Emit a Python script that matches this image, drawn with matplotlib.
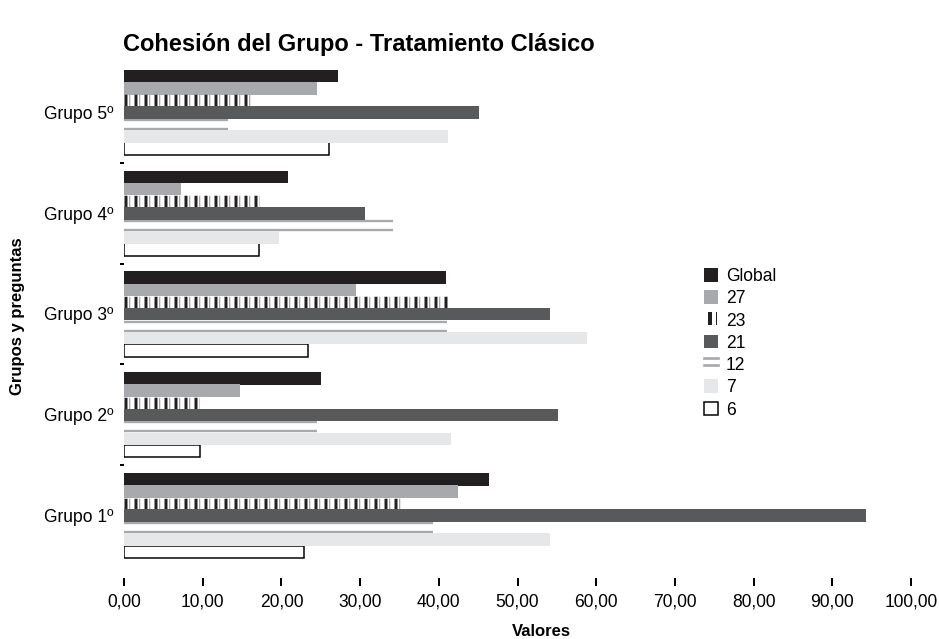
import matplotlib
matplotlib.use("Agg")
import matplotlib.pyplot as plt
from matplotlib.patches import Patch, Rectangle
from matplotlib.lines import Line2D
from matplotlib.legend_handler import HandlerBase
import numpy as np

plt.rcParams['font.family'] = ['Liberation Sans', 'DejaVu Sans']
plt.rcParams['lines.scale_dashes'] = False

groups = ["Grupo 1º", "Grupo 2º", "Grupo 3º", "Grupo 4º", "Grupo 5º"]
series_names = ["Global", "27", "23", "21", "12", "7", "6"]
v_global = [46.4, 25.0, 40.9, 20.8, 27.2]
v_27 = [42.4, 14.7, 29.5, 7.3, 24.5]
v_23 = [35.6, 9.5, 41.0, 17.2, 16.0]
v_21 = [94.3, 55.1, 54.1, 30.6, 45.1]
v_12 = [39.2, 24.5, 41.1, 34.2, 13.2]
v_7 = [54.1, 41.6, 58.8, 19.7, 41.2]
v_6 = [22.9, 9.7, 23.4, 17.1, 26.0]
x_ticks = [0, 10, 20, 30, 40, 50, 60, 70, 80, 90, 100]
x_tick_labels = ["0,00", "10,00", "20,00", "30,00", "40,00", "50,00",
                 "60,00", "70,00", "80,00", "90,00", "100,00"]

DPI = 120
PX = 72 / DPI  # points per pixel
fig = plt.figure(figsize=(939 / DPI, 639 / DPI), dpi=DPI)
ax = fig.add_axes([124 / 939, 1 - 566 / 639, (911 - 124) / 939, (566 - 62) / 639])

g = np.arange(len(groups))
pitch = 0.12
h = 0.125
offs = [0.36 - pitch * i for i in range(7)]

c_black = '#231f20'
c_g27 = '#a7a9ac'
c_g21 = '#58595b'
c_g7 = '#e6e7e8'

ax.barh(g + offs[0], v_global, height=h, color=c_black, lw=0, zorder=3)
ax.barh(g + offs[1], v_27, height=h, color=c_g27, lw=0, zorder=3)
# series 23: vertical stripes (thick dashed line)
lw23 = 11.5 * PX
ax.hlines(g + offs[2], 0, v_23, color=c_g27, lw=lw23, zorder=3,
          linestyles=[(-4.5 * PX, (1.3 * PX, 8.7 * PX))], capstyle='butt')
ax.hlines(g + offs[2], 0, v_23, color=c_black, lw=lw23, zorder=3,
          linestyles=[(0, (3.0 * PX, 7.0 * PX))], capstyle='butt')
ax.barh(g + offs[3], v_21, height=h, color=c_g21, lw=0, zorder=4)
ax.hlines(g + offs[4] + 0.045, 0, v_12, color=c_g27, lw=1.4, zorder=3)
ax.hlines(g + offs[4] - 0.045, 0, v_12, color=c_g27, lw=1.4, zorder=3)
ax.barh(g + offs[6], v_6, height=h, facecolor='white', edgecolor='black',
        lw=0.9, zorder=3)
ax.barh(g + offs[5], v_7, height=h, color=c_g7, lw=0, zorder=4)

ax.set_xlim(0, 100)
ax.set_ylim(-0.5, 4.5)
for s in ['top', 'right', 'left']:
    ax.spines[s].set_visible(False)
ax.spines['bottom'].set_position(('outward', 7))
ax.spines['bottom'].set_visible(False)

ax.set_xticks(x_ticks)
ax.set_xticklabels(x_tick_labels)
ax.tick_params(axis='x', direction='out', length=4.5, width=1.2, pad=5,
               labelsize=10.5, color='black')
ax.set_yticks(g)
ax.set_yticklabels(groups)
ax.tick_params(axis='y', which='major', length=0, pad=6.5, labelsize=10.5)
ax.set_yticks([0.5, 1.5, 2.5, 3.5], minor=True)
ax.tick_params(axis='y', which='minor', direction='out', length=2.5, width=1.2,
               color='black')

fig.text(123 / 939, 1 - 45 / 639, "Cohesión del Grupo - Tratamiento Clásico",
         fontsize=14.2, fontweight='bold', ha='left', va='center')
fig.text(18 / 939, 1 - 316 / 639, "Grupos y preguntas", fontsize=10,
         fontweight='bold', rotation=90, ha='center', va='center')
fig.text(541 / 939, 1 - 632 / 639, "Valores", fontsize=10,
         fontweight='bold', ha='center', va='center')


class StripeHandler(HandlerBase):
    def create_artists(self, legend, orig_handle, xd, yd, width, height,
                       fontsize, trans):
        r1 = Rectangle((xd + width * 0.3, yd), width * 0.3, height,
                       facecolor=c_black, lw=0, transform=trans)
        r2 = Rectangle((xd + width * 0.85, yd), width * 0.1, height,
                       facecolor=c_black, lw=0, transform=trans)
        return [r1, r2]


class DoubleLineHandler(HandlerBase):
    def create_artists(self, legend, orig_handle, xd, yd, width, height,
                       fontsize, trans):
        l1 = Line2D([xd, xd + width], [yd + height * 0.85] * 2, color=c_g27,
                    lw=1.6, transform=trans)
        l2 = Line2D([xd, xd + width], [yd + height * 0.3] * 2, color=c_g27,
                    lw=1.6, transform=trans)
        return [l1, l2]


h23 = Patch(facecolor='white', lw=0)
h12 = Patch(facecolor='white', lw=0)
handles = [
    Patch(facecolor=c_black, lw=0),
    Patch(facecolor=c_g27, lw=0),
    h23,
    Patch(facecolor=c_g21, lw=0),
    h12,
    Patch(facecolor=c_g7, lw=0),
    Patch(facecolor='white', edgecolor='black', lw=0.9),
]
fig.legend(handles, series_names, loc='upper left',
           bbox_to_anchor=(704 / 939, 1 - 268 / 639), frameon=False,
           fontsize=10.5, handlelength=0.8, handleheight=0.8,
           handletextpad=0.45, labelspacing=0.3, borderpad=0, borderaxespad=0,
           handler_map={h23: StripeHandler(), h12: DoubleLineHandler()})

fig.savefig("out.png", dpi=DPI)
